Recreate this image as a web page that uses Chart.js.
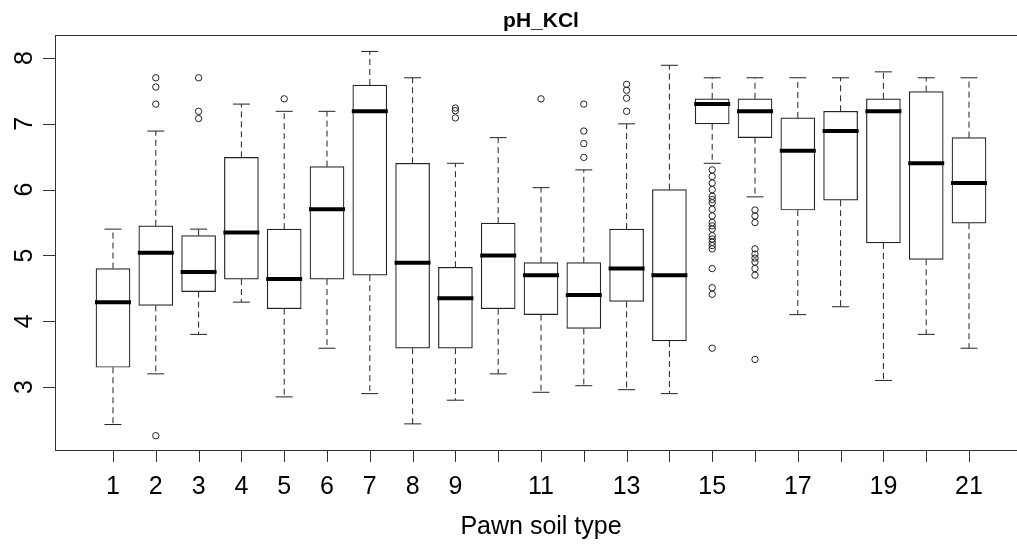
<!DOCTYPE html>
<html>
<head>
<meta charset="utf-8">
<title>pH_KCl</title>
<script src="https://cdn.jsdelivr.net/npm/chart.js@4.4.1/dist/chart.umd.min.js"></script>
<style>
    html, body { margin: 0; padding: 0; overflow: hidden; background: #fff; }
    canvas { display: block; }
</style>
</head>
<body>
<canvas id="boxChart" width="1040" height="552"></canvas>
<script>
// Box statistics per soil type
const soilTypes = [1, 2, 3, 4, 5, 6, 7, 8, 9, 10, 11, 12, 13, 14, 15, 16, 17, 18, 19, 20, 21];
const lowerWhisker = [2.43, 3.20, 3.80, 4.29, 2.85, 3.59, 2.90, 2.44, 2.80, 3.20, 2.92, 3.02, 2.96, 2.90, 6.40, 5.89, 4.10, 4.22, 3.10, 3.80, 3.59];
const lowerQuartile = [3.30, 4.24, 4.45, 4.64, 4.19, 4.64, 4.70, 3.59, 3.59, 4.19, 4.10, 3.89, 4.30, 3.70, 7.00, 6.79, 5.69, 5.84, 5.19, 4.94, 5.49];
const medians = [4.29, 5.04, 4.75, 5.35, 4.64, 5.70, 7.19, 4.89, 4.35, 5.00, 4.70, 4.40, 4.80, 4.70, 7.30, 7.19, 6.59, 6.89, 7.19, 6.40, 6.10];
const upperQuartile = [4.80, 5.45, 5.30, 6.49, 5.40, 6.35, 7.59, 6.40, 4.82, 5.49, 4.89, 4.89, 5.40, 6.00, 7.38, 7.38, 7.09, 7.19, 7.38, 7.49, 6.79];
const upperWhisker = [5.40, 6.89, 5.40, 7.30, 7.19, 7.19, 8.10, 7.70, 6.40, 6.79, 6.03, 6.30, 7.00, 7.89, 7.70, 7.70, 7.70, 7.70, 7.79, 7.70, 7.70];
const outliers = [
    [],
    [7.70, 7.56, 7.30, 2.26],
    [7.70, 7.19, 7.08],
    [],
    [7.38],
    [],
    [],
    [],
    [7.24, 7.20, 7.09],
    [],
    [7.38],
    [7.30, 6.89, 6.70, 6.49],
    [7.60, 7.51, 7.39, 7.19],
    [],
    [6.30, 6.20, 6.10, 6.00, 5.90, 5.85, 5.80, 5.70, 5.60, 5.50, 5.45, 5.40, 5.30, 5.25, 5.20, 5.15, 5.10, 4.80, 4.51, 4.41, 3.59],
    [5.69, 5.60, 5.50, 5.10, 5.02, 4.96, 4.90, 4.80, 4.70, 3.42],
    [],
    [],
    [],
    [],
    []
];
const yTicks = [3, 4, 5, 6, 7, 8];
const hiddenXLabels = [10, 12, 14, 16, 18, 20];

const chartTitle = 'pH_KCl';
const xTitle = 'Pawn soil type';

const INK = '#222';
const FONT = '"Liberation Sans", Arial, sans-serif';
const BOX_WIDTH = 34;

// Whiskers, staples, medians, frame, ticks and labels
const boxplotPlugin = {
    id: 'boxplotExtras',
    afterDatasetsDraw(chart) {
        const ctx = chart.ctx;
        const x = chart.scales.x;
        const y = chart.scales.y;
        const half = BOX_WIDTH / 2;

        ctx.save();
        ctx.strokeStyle = INK;

        soilTypes.forEach((t, i) => {
            const px = x.getPixelForValue(t);

            // dashed whiskers
            ctx.lineWidth = 1;
            ctx.setLineDash([6, 4]);
            ctx.beginPath();
            ctx.moveTo(px, y.getPixelForValue(upperQuartile[i]));
            ctx.lineTo(px, y.getPixelForValue(upperWhisker[i]));
            ctx.moveTo(px, y.getPixelForValue(lowerQuartile[i]));
            ctx.lineTo(px, y.getPixelForValue(lowerWhisker[i]));
            ctx.stroke();

            // staples
            ctx.setLineDash([]);
            ctx.beginPath();
            ctx.moveTo(px - half / 2, y.getPixelForValue(upperWhisker[i]));
            ctx.lineTo(px + half / 2, y.getPixelForValue(upperWhisker[i]));
            ctx.moveTo(px - half / 2, y.getPixelForValue(lowerWhisker[i]));
            ctx.lineTo(px + half / 2, y.getPixelForValue(lowerWhisker[i]));
            ctx.stroke();

            // median
            ctx.strokeStyle = '#000';
            ctx.lineWidth = 4;
            ctx.beginPath();
            ctx.moveTo(px - half - 1, y.getPixelForValue(medians[i]));
            ctx.lineTo(px + half + 1, y.getPixelForValue(medians[i]));
            ctx.stroke();
            ctx.strokeStyle = INK;
        });

        // frame (right side runs off the picture)
        const area = chart.chartArea;
        ctx.lineWidth = 1;
        ctx.strokeStyle = '#333';
        ctx.strokeRect(area.left + 0.5, area.top + 0.5, area.right - area.left, area.bottom - area.top);

        // tick marks
        ctx.beginPath();
        soilTypes.forEach(t => {
            const px = Math.round(x.getPixelForValue(t)) + 0.5;
            ctx.moveTo(px, area.bottom);
            ctx.lineTo(px, area.bottom + 12);
        });
        yTicks.forEach(v => {
            const py = Math.round(y.getPixelForValue(v)) + 0.5;
            ctx.moveTo(area.left, py);
            ctx.lineTo(area.left - 12, py);
        });
        ctx.stroke();

        // tick labels
        ctx.fillStyle = '#000';
        ctx.font = `25px ${FONT}`;
        ctx.textAlign = 'center';
        ctx.textBaseline = 'alphabetic';
        soilTypes.forEach(t => {
            if (hiddenXLabels.includes(t)) return;
            ctx.fillText(String(t), x.getPixelForValue(t), 494);
        });
        yTicks.forEach(v => {
            ctx.save();
            ctx.translate(32, y.getPixelForValue(v));
            ctx.rotate(-Math.PI / 2);
            ctx.fillText(String(v), 0, 0);
            ctx.restore();
        });

        // titles
        const centre = (area.left + area.right) / 2;
        ctx.fillText(xTitle, centre, 534);
        ctx.font = `bold 21px ${FONT}`;
        ctx.fillText(chartTitle, centre, 27);

        ctx.restore();
    }
};

const boxData = soilTypes.map((t, i) => ({ x: t, y: [lowerQuartile[i], upperQuartile[i]] }));
const outlierData = [];
outliers.forEach((list, i) => {
    list.forEach(v => outlierData.push({ x: soilTypes[i], y: v }));
});

const ctx = document.getElementById('boxChart').getContext('2d');
new Chart(ctx, {
    type: 'bar',
    data: {
        datasets: [{
            label: 'Box',
            data: boxData,
            backgroundColor: '#fff',
            borderColor: INK,
            borderWidth: 1.2,
            borderSkipped: false,
            barThickness: BOX_WIDTH,
            grouped: false
        }, {
            type: 'scatter',
            label: 'Outliers',
            data: outlierData,
            pointStyle: 'circle',
            pointRadius: 3.2,
            borderWidth: 1,
            borderColor: INK,
            backgroundColor: 'rgba(0,0,0,0)'
        }]
    },
    options: {
        responsive: false,
        animation: false,
        devicePixelRatio: 1,
        layout: { padding: { left: 55, top: 35, right: 13, bottom: 102 } },
        plugins: {
            legend: { display: false },
            tooltip: { enabled: false },
            title: { display: false }
        },
        scales: {
            x: { type: 'linear', offset: false, min: -0.355, max: 22.355, display: false },
            y: { type: 'linear', min: 2.043, max: 8.35, display: false }
        }
    },
    plugins: [boxplotPlugin]
});
</script>
</body>
</html>
